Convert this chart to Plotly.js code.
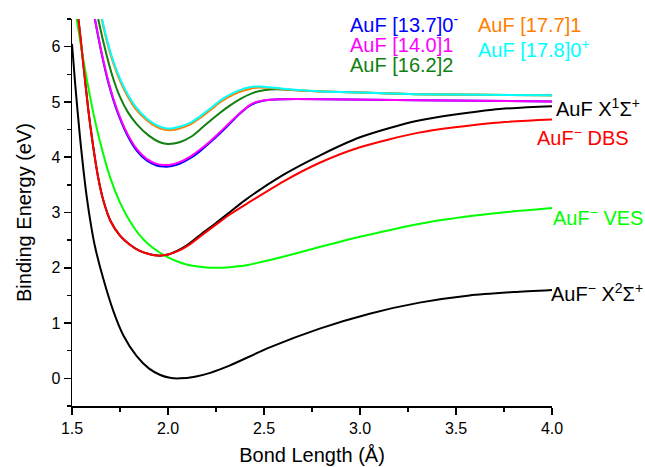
<!DOCTYPE html>
<html>
<head>
<meta charset="utf-8">
<script src="https://cdn.plot.ly/plotly-3.0.1.min.js"></script>
<style>html,body{margin:0;padding:0;background:#fff;}#chart{width:645px;height:467px;}</style>
</head>
<body>
<div id="chart"></div>
<script>
// Bond length (Å) and binding energy (eV) for each potential curve
const anionX_r = [1.5, 1.516, 1.542, 1.576, 1.6, 1.62, 1.663, 1.715, 1.767, 1.837, 1.9, 1.96, 2.01, 2.06, 2.14, 2.22, 2.32, 2.53, 2.79, 3.05, 3.31, 3.57, 3.8, 4.0];
const anionX_E = [6.05, 5.35, 4.35, 3.3, 2.75, 2.38, 1.8, 1.22, 0.78, 0.4, 0.18, 0.06, 0.01, 0.0, 0.03, 0.1, 0.23, 0.56, 0.9, 1.17, 1.37, 1.5, 1.56, 1.6];

const dbs_r = [1.5, 1.533, 1.56, 1.585, 1.61, 1.637, 1.663, 1.7, 1.75, 1.8, 1.85, 1.9, 1.95, 2.0, 2.05, 2.1, 2.18, 2.25, 2.32, 2.43, 2.6, 2.79, 3.0, 3.3, 3.69, 4.0];
const dbs_E = [7.25, 6.5, 5.65, 4.85, 4.2, 3.62, 3.22, 2.85, 2.58, 2.42, 2.31, 2.25, 2.22, 2.24, 2.3, 2.39, 2.6, 2.78, 2.96, 3.2, 3.56, 3.9, 4.18, 4.44, 4.62, 4.68];

const neutral_r = [1.5, 1.533, 1.56, 1.585, 1.61, 1.637, 1.663, 1.7, 1.75, 1.8, 1.85, 1.9, 1.95, 2.0, 2.05, 2.1, 2.18, 2.25, 2.32, 2.4, 2.6, 2.79, 3.0, 3.3, 3.69, 4.0];
const neutral_E = [7.25, 6.5, 5.65, 4.85, 4.2, 3.62, 3.22, 2.85, 2.58, 2.42, 2.31, 2.25, 2.22, 2.24, 2.31, 2.41, 2.63, 2.81, 3.0, 3.22, 3.68, 4.03, 4.36, 4.66, 4.86, 4.92];

const ves_r = [1.5, 1.524, 1.55, 1.576, 1.61, 1.646, 1.698, 1.75, 1.8, 1.85, 1.9, 1.95, 2.0, 2.06, 2.12, 2.2, 2.26, 2.32, 2.4, 2.48, 2.6, 2.74, 3.0, 3.35, 3.69, 4.0];
const ves_E = [7.05, 6.5, 5.95, 5.43, 4.82, 4.28, 3.64, 3.18, 2.85, 2.6, 2.42, 2.29, 2.19, 2.1, 2.04, 2.005, 2.0, 2.01, 2.04, 2.1, 2.2, 2.33, 2.56, 2.82, 2.98, 3.08];

const s137_r = [1.6, 1.62, 1.655, 1.689, 1.733, 1.785, 1.837, 1.889, 1.94, 1.98, 2.02, 2.06, 2.12, 2.167, 2.22, 2.27, 2.32, 2.375, 2.42, 2.46, 2.53, 2.6, 2.8, 3.3, 4.0];
const s137_E = [6.85, 6.48, 5.86, 5.35, 4.85, 4.42, 4.12, 3.94, 3.85, 3.83, 3.84, 3.88, 3.99, 4.11, 4.27, 4.43, 4.6, 4.79, 4.92, 4.99, 5.04, 5.05, 5.05, 5.03, 5.01];

const s140_r = [1.6, 1.62, 1.655, 1.689, 1.733, 1.785, 1.837, 1.889, 1.94, 1.98, 2.02, 2.06, 2.12, 2.167, 2.22, 2.27, 2.32, 2.375, 2.42, 2.46, 2.53, 2.6, 2.8, 3.3, 4.0];
const s140_E = [6.85, 6.49, 5.88, 5.38, 4.88, 4.45, 4.15, 3.97, 3.88, 3.86, 3.87, 3.91, 4.02, 4.14, 4.29, 4.45, 4.62, 4.8, 4.93, 5.0, 5.04, 5.05, 5.05, 5.03, 5.01];

const s162_r = [1.62, 1.637, 1.68, 1.715, 1.75, 1.79, 1.837, 1.9, 1.958, 2.0, 2.06, 2.12, 2.167, 2.22, 2.27, 2.32, 2.38, 2.44, 2.5, 2.56, 2.62, 2.8, 3.0, 3.3, 4.0];
const s162_E = [6.8, 6.49, 5.85, 5.42, 5.09, 4.82, 4.6, 4.39, 4.27, 4.24, 4.27, 4.37, 4.5, 4.66, 4.8, 4.93, 5.06, 5.16, 5.21, 5.23, 5.22, 5.19, 5.17, 5.14, 5.12];

const s177_r = [1.64, 1.655, 1.685, 1.715, 1.75, 1.785, 1.83, 1.889, 1.94, 1.98, 2.02, 2.06, 2.12, 2.167, 2.22, 2.27, 2.31, 2.37, 2.43, 2.48, 2.54, 2.6, 2.8, 3.0, 3.3, 4.0];
const s177_E = [6.75, 6.49, 6.05, 5.7, 5.38, 5.13, 4.88, 4.67, 4.55, 4.5, 4.49, 4.52, 4.6, 4.71, 4.85, 4.99, 5.08, 5.18, 5.24, 5.26, 5.25, 5.23, 5.19, 5.17, 5.14, 5.12];

const s178_r = [1.64, 1.655, 1.685, 1.715, 1.75, 1.785, 1.83, 1.889, 1.94, 1.98, 2.02, 2.06, 2.12, 2.167, 2.22, 2.27, 2.31, 2.37, 2.43, 2.48, 2.54, 2.6, 2.8, 3.0, 3.3, 4.0];
const s178_E = [6.8, 6.53, 6.09, 5.74, 5.42, 5.17, 4.92, 4.7, 4.58, 4.53, 4.52, 4.55, 4.63, 4.74, 4.88, 5.02, 5.11, 5.21, 5.27, 5.28, 5.26, 5.24, 5.19, 5.17, 5.14, 5.12];

const xTickVals = [1.5, 2.0, 2.5, 3.0, 3.5, 4.0];
const yTickVals = [0, 1, 2, 3, 4, 5, 6];

const FONT = "Liberation Sans, Arial, sans-serif";

function line(x, y, color, name) {
  return {x: x, y: y, type: 'scatter', mode: 'lines', name: name,
          line: {color: color, width: 2, shape: 'spline', smoothing: 0.7},
          showlegend: false, hoverinfo: 'skip'};
}

const data = [
  line(anionX_r, anionX_E, '#000000', 'AuF− X2Σ+'),
  line(neutral_r, neutral_E, '#000000', 'AuF X1Σ+'),
  line(ves_r, ves_E, '#00FF00', 'AuF− VES'),
  line(dbs_r, dbs_E, '#FF0000', 'AuF− DBS'),
  line(s137_r, s137_E, '#0000FF', 'AuF [13.7]0-'),
  line(s140_r, s140_E, '#FF00FF', 'AuF [14.0]1'),
  line(s162_r, s162_E, '#108010', 'AuF [16.2]2'),
  line(s177_r, s177_E, '#FF8000', 'AuF [17.7]1'),
  line(s178_r, s178_E, '#00FFFF', 'AuF [17.8]0+')
];

function ann(text, x, y, color) {
  return {text: text, x: x, y: y, xref: 'paper', yref: 'y',
          xanchor: 'left', yanchor: 'middle', showarrow: false,
          font: {family: FONT, size: 20, color: color}};
}

const annotations = [
  ann('AuF [13.7]0<sup>-</sup>', 0.575, 6.42, '#0000FF'),
  ann('AuF [14.0]1', 0.575, 6.03, '#FF00FF'),
  ann('AuF [16.2]2', 0.575, 5.66, '#108010'),
  ann('AuF [17.7]1', 0.842, 6.40, '#FF8000'),
  ann('AuF [17.8]0<sup>+</sup>', 0.842, 5.97, '#00FFFF'),
  ann('AuF X<sup>1</sup>Σ<sup>+</sup>', 1.004, 4.90, '#000000'),
  ann('AuF<sup>−</sup> DBS', 0.965, 4.37, '#FF0000'),
  ann('AuF<sup>−</sup> VES', 0.998, 2.92, '#00FF00'),
  ann('AuF<sup>−</sup> X<sup>2</sup>Σ<sup>+</sup>', 0.994, 1.56, '#000000')
];

const layout = {
  width: 645, height: 467,
  margin: {l: 72, r: 93, t: 19, b: 61},
  paper_bgcolor: '#ffffff', plot_bgcolor: '#ffffff',
  font: {family: FONT, size: 16, color: '#000000'},
  xaxis: {
    range: [1.5, 4.0], tickvals: xTickVals, tickformat: '.1f',
    showgrid: false, zeroline: false, showline: true, linecolor: '#000000', linewidth: 1.5,
    ticks: 'outside', ticklen: 7, tickwidth: 1.5, tickcolor: '#000000',
    minor: {dtick: 0.25, ticks: 'outside', ticklen: 4, tickwidth: 1.5, tickcolor: '#000000', showgrid: false},
    tickfont: {family: FONT, size: 16},
    title: {text: 'Bond Length (Å)', font: {family: FONT, size: 20}, standoff: 12}
  },
  yaxis: {
    range: [-0.5, 6.5], tickvals: yTickVals,
    showgrid: false, zeroline: false, showline: true, linecolor: '#000000', linewidth: 1.5,
    ticks: 'outside', ticklen: 7, tickwidth: 1.5, tickcolor: '#000000',
    minor: {dtick: 0.5, ticks: 'outside', ticklen: 4, tickwidth: 1.5, tickcolor: '#000000', showgrid: false},
    tickfont: {family: FONT, size: 16},
    title: {text: 'Binding Energy (eV)', font: {family: FONT, size: 20}, standoff: 14}
  },
  annotations: annotations,
  showlegend: false
};

Plotly.newPlot('chart', data, layout, {displayModeBar: false, staticPlot: true});
</script>
</body>
</html>
